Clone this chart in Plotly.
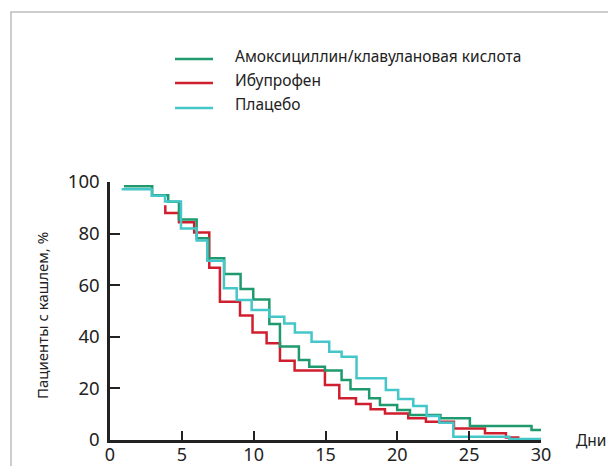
import plotly.graph_objects as go

# Data (days, % of patients still coughing)
amox_days = [0.97, 2.94, 4.05, 4.8, 6.03, 6.84, 7.95, 9.09, 9.97, 11.09, 11.83, 13.15, 13.87,
             14.96, 16.12, 16.74, 18.04, 18.79, 19.99, 20.88, 23.0, 25.05, 29.34, 30.1]
amox_pct = [98.4, 94.9, 92.3, 85.5, 78.2, 70.4, 64.3, 58.5, 54.5, 45.0, 36.2, 31.0, 28.4,
            26.9, 23.3, 19.7, 16.2, 13.6, 11.6, 9.7, 8.4, 5.4, 3.9, 3.9]

ibu_days = [3.85, 3.85, 4.8, 5.86, 6.91, 7.65, 9.05, 9.92, 10.9, 11.83, 12.85, 14.96, 15.96,
            17.12, 18.14, 19.14, 20.76, 21.99, 23.94, 26.1, 27.56, 28.5]
ibu_pct = [91.0, 88.0, 84.4, 80.4, 66.8, 53.6, 48.3, 41.7, 37.5, 30.7, 26.9, 21.3, 16.2,
           14.0, 11.9, 10.3, 8.4, 7.1, 4.5, 2.6, 1.0, 1.0]

plac_days = [0.81, 2.9, 3.83, 4.94, 6.03, 6.77, 7.93, 8.82, 9.86, 11.09, 12.13, 12.87, 14.03,
             15.26, 16.12, 17.16, 19.2, 20.06, 21.11, 22.04, 22.92, 23.9, 27.8, 30.1]
plac_pct = [97.2, 94.7, 92.4, 82.0, 77.3, 69.5, 58.8, 54.3, 50.4, 47.8, 45.2, 41.7, 38.1,
            34.2, 32.3, 23.9, 19.4, 15.9, 13.2, 9.3, 6.7, 1.3, 0.4, 0.4]

series_names = ["Амоксициллин/клавулановая кислота", "Ибупрофен", "Плацебо"]
series_colors = ["#1f9a6e", "#cf1f2f", "#45c6c8"]

x_ticks = [0, 5, 10, 15, 20, 25, 30]
y_ticks = [0, 20, 40, 60, 80, 100]

FONT = "Noto Sans"
TXT = "#222222"

fig = go.Figure()
for days, pct, name, col in [
    (ibu_days, ibu_pct, series_names[1], series_colors[1]),
    (amox_days, amox_pct, series_names[0], series_colors[0]),
    (plac_days, plac_pct, series_names[2], series_colors[2]),
]:
    fig.add_trace(go.Scatter(x=days, y=pct, mode="lines", name=name,
                             line=dict(color=col, width=2.5, shape="hv"),
                             showlegend=False, cliponaxis=False))

# plot geometry in screen px
FW, FH = 608, 466
L, R, T, B = 110, 541, 182, 440
W, H = R - L, B - T


def px(xp):
    return (xp - L) / W


def py(yp):
    return (B - yp) / H


shapes = []
annotations = []
# outer frame
shapes.append(dict(type="rect", xref="paper", yref="paper",
                   x0=px(11), x1=px(640), y0=py(500), y1=py(12),
                   line=dict(color="#bdbdbd", width=1.5), layer="below"))

# manual legend
leg_line_y = [59, 83, 108]
leg_text_y = [56, 80, 104]
for i, (name, col) in enumerate(zip(series_names, series_colors)):
    shapes.append(dict(type="line", xref="paper", yref="paper",
                       x0=px(175), x1=px(213), y0=py(leg_line_y[i]), y1=py(leg_line_y[i]),
                       line=dict(color=col, width=2.5)))
    annotations.append(dict(xref="paper", yref="paper", x=px(233), y=py(leg_text_y[i]),
                            text=name, showarrow=False, xanchor="left", yanchor="middle",
                            font=dict(family=FONT, size=15.5, color=TXT)))

# axis titles
annotations.append(dict(xref="paper", yref="paper", x=px(42), y=py(316),
                        text="Пациенты с кашлем, %", textangle=-90, showarrow=False,
                        xanchor="center", yanchor="middle",
                        font=dict(family=FONT, size=15, color=TXT)))
annotations.append(dict(xref="paper", yref="paper", x=px(574), y=py(440),
                        text="Дни", showarrow=False, xanchor="left", yanchor="middle",
                        font=dict(family=FONT, size=15.5, color=TXT)))

fig.update_layout(
    width=FW, height=FH,
    margin=dict(l=L, r=FW - R, t=T, b=FH - B, autoexpand=False),
    paper_bgcolor="white", plot_bgcolor="white",
    shapes=shapes, annotations=annotations,
    xaxis=dict(range=[0, 30], tickvals=x_ticks, ticktext=[str(v) for v in x_ticks],
               showgrid=False, zeroline=False, showline=True, linecolor="#222",
               linewidth=2.5, ticks="inside", ticklen=9, tickwidth=2, tickcolor="#222",
               tickfont=dict(family=FONT, size=18, color=TXT), automargin=False,
               ticklabelstandoff=-3),
    yaxis=dict(range=[0, 100], tickvals=y_ticks, ticktext=[str(v) for v in y_ticks],
               showgrid=False, zeroline=False, showline=True, linecolor="#222",
               linewidth=2.5, ticks="inside", ticklen=10, tickwidth=2, tickcolor="#222",
               tickfont=dict(family=FONT, size=18.5, color=TXT), automargin=False,
               ticklabelstandoff=4),
    showlegend=False,
)

fig.write_html(
    "out.html",
    config={"displayModeBar": False},
    post_script="document.body.style.margin='0';document.body.style.overflow='hidden';",
)
